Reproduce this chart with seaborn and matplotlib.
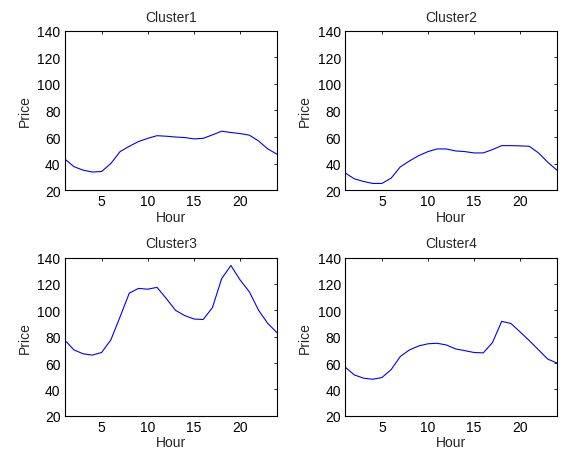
import numpy as np
import pandas as pd
import seaborn as sns
import matplotlib
matplotlib.use("Agg")
import matplotlib.pyplot as plt

hours = list(range(1, 25))
cluster1 = [43.5, 37.7, 35, 33.6, 34, 40, 49, 53, 56.6, 59, 61, 60.6,
            60, 59.6, 58.6, 59, 61.6, 64.4, 63.4, 62.6, 61.4, 57, 51, 47]
cluster2 = [33, 28.5, 26.5, 25, 25, 29, 37.5, 42, 46, 49, 51, 51,
            49.5, 49, 48, 48, 50.5, 53.5, 53.5, 53.3, 53, 48, 41, 35]
cluster3 = [77.5, 70, 67, 66, 68, 77.5, 95, 113, 116.6, 116, 117.4, 109,
            100, 96, 93.4, 93, 102, 124, 134, 123, 114, 100, 90, 83]
cluster4 = [57, 51, 48.5, 47.7, 49, 55, 65, 70, 73, 74.6, 75, 73.7,
            70.7, 69.4, 68, 67.7, 75.5, 91.6, 90, 83.6, 77, 70, 63, 60]
titles = ["Cluster1", "Cluster2", "Cluster3", "Cluster4"]

sns.set_style("white")
plt.rcParams['font.family'] = ['Liberation Sans', 'DejaVu Sans']
plt.rcParams['font.size'] = 10

fig = plt.figure(figsize=(5.62, 4.56), dpi=100)
positions = [[0.115, 0.581, 0.378, 0.349], [0.614, 0.581, 0.377, 0.349],
             [0.115, 0.086, 0.378, 0.347], [0.614, 0.086, 0.377, 0.347]]

for pos, vals, name in zip(positions, [cluster1, cluster2, cluster3, cluster4], titles):
    ax = fig.add_axes(pos)
    df = pd.DataFrame({"Hour": hours, "Price": vals})
    sns.lineplot(data=df, x="Hour", y="Price", color="blue", linewidth=0.8, ax=ax)
    ax.set_xlim(1, 24)
    ax.set_ylim(20, 140)
    ax.set_xticks([5, 10, 15, 20])
    ax.set_yticks(range(20, 141, 20))
    ax.tick_params(direction="in", length=2, width=0.6, top=True, right=True,
                   labelsize=10, colors="black", pad=3)
    for s in ax.spines.values():
        s.set_linewidth(0.8)
        s.set_color("black")
    ax.set_title(name, fontsize=10, pad=7.5)
    ax.set_xlabel("Hour", fontsize=10, labelpad=1)
    ax.set_ylabel("Price", fontsize=10, labelpad=4)

fig.savefig("out.png", dpi=100)
